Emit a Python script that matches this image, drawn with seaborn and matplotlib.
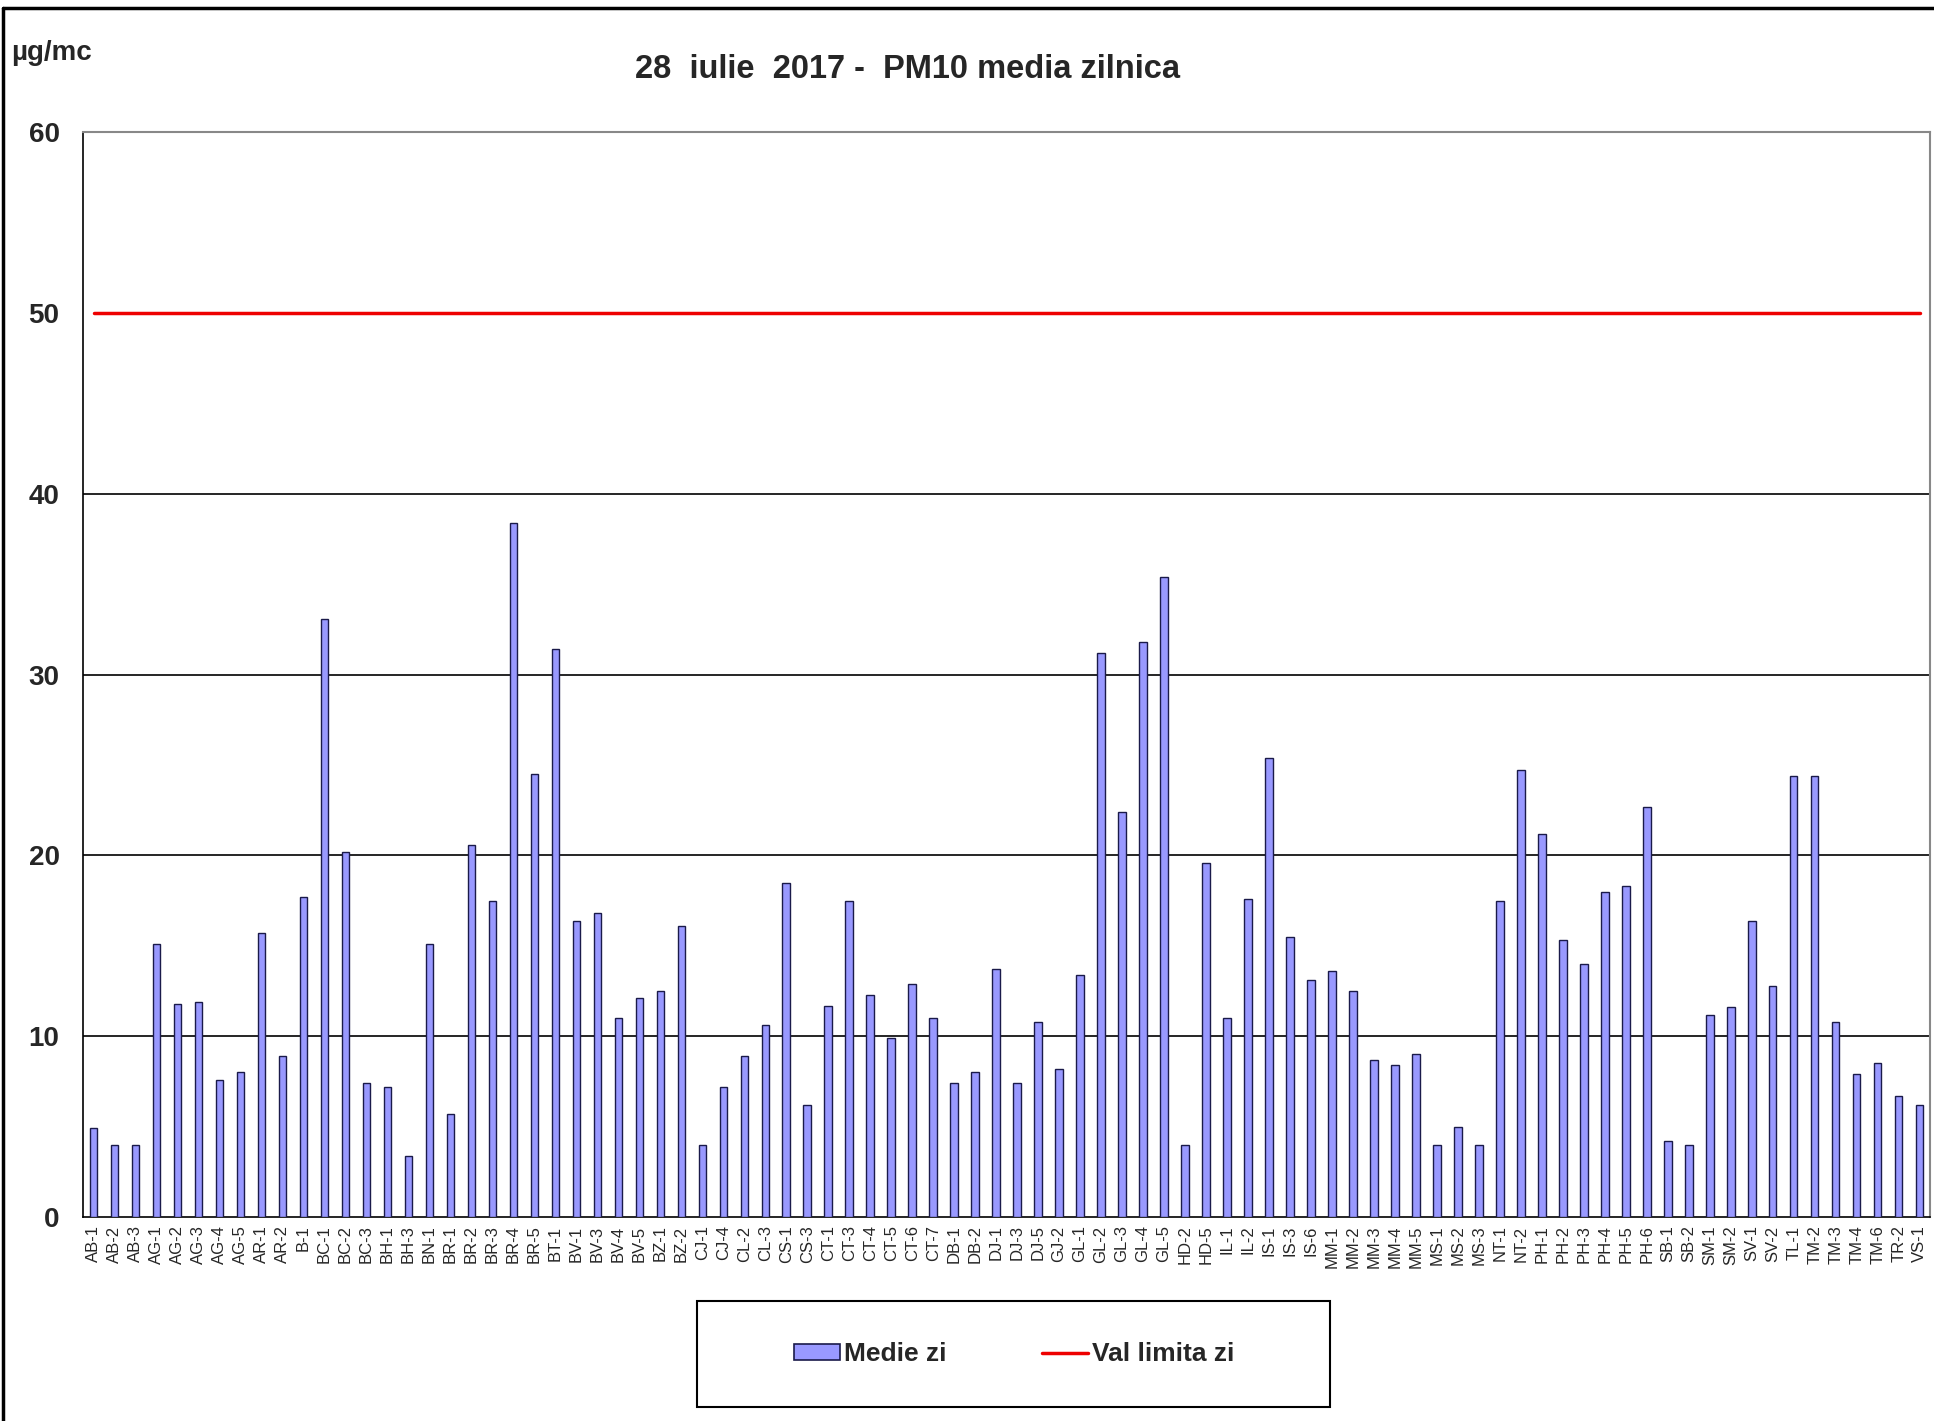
import matplotlib
matplotlib.use("Agg")
import matplotlib.pyplot as plt
import numpy as np
import pandas as pd
import seaborn as sns
from matplotlib.patches import Patch, Rectangle
from matplotlib.lines import Line2D

# ── Data ───────────────────────────────────────────────────────────────────
stations = [
    "AB-1", "AB-2", "AB-3", "AG-1", "AG-2", "AG-3", "AG-4", "AG-5", "AR-1", "AR-2",
    "B-1", "BC-1", "BC-2", "BC-3", "BH-1", "BH-3", "BN-1", "BR-1", "BR-2", "BR-3",
    "BR-4", "BR-5", "BT-1", "BV-1", "BV-3", "BV-4", "BV-5", "BZ-1", "BZ-2", "CJ-1",
    "CJ-4", "CL-2", "CL-3", "CS-1", "CS-3", "CT-1", "CT-3", "CT-4", "CT-5", "CT-6",
    "CT-7", "DB-1", "DB-2", "DJ-1", "DJ-3", "DJ-5", "GJ-2", "GL-1", "GL-2", "GL-3",
    "GL-4", "GL-5", "HD-2", "HD-5", "IL-1", "IL-2", "IS-1", "IS-3", "IS-6", "MM-1",
    "MM-2", "MM-3", "MM-4", "MM-5", "MS-1", "MS-2", "MS-3", "NT-1", "NT-2", "PH-1",
    "PH-2", "PH-3", "PH-4", "PH-5", "PH-6", "SB-1", "SB-2", "SM-1", "SM-2", "SV-1",
    "SV-2", "TL-1", "TM-2", "TM-3", "TM-4", "TM-6", "TR-2", "VS-1",
]
medie_zi = [
    4.9, 4.0, 4.0, 15.1, 11.8, 11.9, 7.6, 8.0, 15.7, 8.9,
    17.7, 33.1, 20.2, 7.4, 7.2, 3.4, 15.1, 5.7, 20.6, 17.5,
    38.4, 24.5, 31.4, 16.4, 16.8, 11.0, 12.1, 12.5, 16.1, 4.0,
    7.2, 8.9, 10.6, 18.5, 6.2, 11.7, 17.5, 12.3, 9.9, 12.9,
    11.0, 7.4, 8.0, 13.7, 7.4, 10.8, 8.2, 13.4, 31.2, 22.4,
    31.8, 35.4, 4.0, 19.6, 11.0, 17.6, 25.4, 15.5, 13.1, 13.6,
    12.5, 8.7, 8.4, 9.0, 4.0, 5.0, 4.0, 17.5, 24.7, 21.2,
    15.3, 14.0, 18.0, 18.3, 22.7, 4.2, 4.0, 11.2, 11.6, 16.4,
    12.8, 24.4, 24.4, 10.8, 7.9, 8.5, 6.7, 6.2,
]
val_limita = [50] * len(stations)

df = pd.DataFrame({"statie": stations, "medie": medie_zi, "limita": val_limita})

BAR = "#9999FF"
EDGE = "#1a1a4a"
FONT = ["Liberation Sans Narrow", "Liberation Sans", "DejaVu Sans"]

sns.set_style("white")
plt.rcParams["font.family"] = FONT

fig = plt.figure(figsize=(19.34, 14.21), dpi=100)
ax = fig.add_axes([0.043, 0.1435, 0.955, 0.7635])

sns.barplot(data=df, x="statie", y="medie", color=BAR, width=0.36,
            edgecolor=EDGE, linewidth=1.0, saturation=1, ax=ax, zorder=3)
ax.plot(df["statie"], df["limita"], color="#ee0000", linewidth=2.5, zorder=4)

ax.set_ylim(0, 60)
ax.set_xlim(-0.5, len(stations) - 0.5)
ax.set_yticks(range(0, 61, 10))
ax.set_yticklabels([str(v) for v in range(0, 61, 10)], fontsize=20, fontweight="bold")
for y in [10, 20, 30, 40]:
    ax.axhline(y, color="black", linewidth=1.2, zorder=1)

ax.tick_params(axis="y", direction="out", length=9, width=1.2, color="black", pad=8)
ax.tick_params(axis="x", which="major", length=0, pad=6, labelsize=12)
ax.set_xticks(np.arange(-0.5, len(stations), 1), minor=True)
ax.tick_params(axis="x", which="minor", direction="out", length=7, width=1.2, color="black")
plt.setp(ax.get_xticklabels(), rotation=90)
ax.set_xlabel("")
ax.set_ylabel("")

for side in ["left", "bottom"]:
    ax.spines[side].set_color("black")
    ax.spines[side].set_linewidth(1.2)
for side in ["top", "right"]:
    ax.spines[side].set_color("#888888")
    ax.spines[side].set_linewidth(1.5)

fig.text(0.469, 0.951, "28  iulie  2017 -  PM10 media zilnica", ha="center", va="center",
         fontsize=23.5, fontweight="bold")
fig.text(0.006, 0.963, "µg/mc", ha="left", va="center", fontsize=20, fontweight="bold")

# legend box
fig.add_artist(Rectangle((0.3604, 0.0099), 0.3273, 0.0745, transform=fig.transFigure,
                         fill=False, edgecolor="black", linewidth=1.5))
handles = [Patch(facecolor=BAR, edgecolor=EDGE, linewidth=1.2),
           Line2D([0], [0], color="#ee0000", linewidth=2.5)]
fig.legend(handles, ["Medie zi", "Val limita zi"], loc="center",
           bbox_to_anchor=(0.5245, 0.047), ncol=2, frameon=False,
           prop={"weight": "bold", "size": 19, "family": FONT},
           handlelength=1.75, handleheight=0.55, handletextpad=0.15,
           columnspacing=3.6)

# outer frame: top and left edges only
fig.add_artist(Line2D([0.0016, 1.0], [0.9944, 0.9944], transform=fig.transFigure,
                      color="black", linewidth=2.5))
fig.add_artist(Line2D([0.0016, 0.0016], [0.0, 0.9944], transform=fig.transFigure,
                      color="black", linewidth=2.5))

fig.savefig("out.png", dpi=100)
